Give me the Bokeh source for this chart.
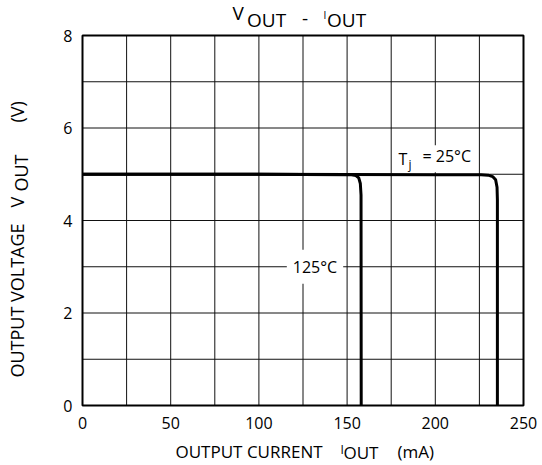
import math
from bokeh.plotting import figure
from bokeh.models import Label, FixedTicker, Range1d
from bokeh.embed import file_html
from bokeh.resources import INLINE

# ---- data ----
iout_25 = [0, 100, 200, 226, 230, 232.5, 234.2, 235.0, 235.2, 235.2]
vout_25 = [5.0, 5.0, 4.99, 4.99, 4.98, 4.95, 4.88, 4.72, 4.45, 0.0]
iout_125 = [0, 100, 150, 152.5, 155.0, 156.6, 157.5, 157.9, 158.0]
vout_125 = [5.0, 5.0, 4.99, 4.99, 4.97, 4.92, 4.8, 4.55, 0.0]

x_ticks = [0, 50, 100, 150, 200, 250]
x_grid = [0, 25, 50, 75, 100, 125, 150, 175, 200, 225, 250]
y_ticks = [0, 2, 4, 6, 8]
y_grid = [0, 1, 2, 3, 4, 5, 6, 7, 8]

FONT = "Open Sans"

# ---- layout (pixels) ----
W, H = 541, 465
BOX_L, BOX_R, BOX_T, BOX_B = 82, 523, 35, 405
xmin, xmax = x_ticks[0], x_ticks[-1]
ymin, ymax = y_ticks[0], y_ticks[-1]
sx = (BOX_R - BOX_L) / (xmax - xmin)
sy = (BOX_B - BOX_T) / (ymax - ymin)
x_start = xmin - BOX_L / sx
x_end = x_start + W / sx
y_end = ymax + BOX_T / sy
y_start = y_end - H / sy

p = figure(width=W, height=H, title=None,
           x_range=Range1d(x_start, x_end), y_range=Range1d(y_start, y_end),
           output_backend="svg", toolbar_location=None,
           min_border=0, min_border_left=0, min_border_right=0,
           min_border_top=0, min_border_bottom=0)
p.background_fill_color = "white"
p.border_fill_color = "white"
p.outline_line_color = None
p.xgrid.visible = False
p.ygrid.visible = False

# axes fixed on the plot box edges
for ax, t in ((p.xaxis, x_ticks), (p.yaxis, y_ticks)):
    ax.ticker = FixedTicker(ticks=t)
    ax.axis_line_color = None
    ax.major_tick_line_color = None
    ax.minor_tick_line_color = None
    ax.major_label_text_font = FONT
    ax.major_label_text_font_size = "16px"
    ax.major_label_text_color = "black"
p.xaxis.fixed_location = ymin
p.yaxis.fixed_location = xmin
p.xaxis.major_label_standoff = 5
p.yaxis.major_label_standoff = 4

# grid lines
p.segment(x0=x_grid, y0=[ymin] * len(x_grid), x1=x_grid, y1=[ymax] * len(x_grid),
          line_color="#111111", line_width=1)
p.segment(x0=[xmin] * len(y_grid), y0=y_grid, x1=[xmax] * len(y_grid), y1=y_grid,
          line_color="#111111", line_width=1)
# plot box
p.quad(left=[xmin], right=[xmax], bottom=[ymin], top=[ymax],
       fill_color=None, line_color="black", line_width=2)

# curves
p.line(iout_25, vout_25, line_color="black", line_width=3, line_join="round")
p.line(iout_125, vout_125, line_color="black", line_width=3, line_join="round")


def px2x(px):
    return xmin + (px - BOX_L) / sx


def py2y(py):
    return ymin + (BOX_B - py) / sy


def txt(px, py, text, size, rotated=False, align="left", baseline="alphabetic", **kw):
    # Bokeh anchors "alphabetic" labels at the bottom of the descent; compensate
    if baseline == "alphabetic":
        d = 0.29 * size
        if rotated:
            px -= d
        else:
            py -= d
    lab = Label(x=px2x(px), y=py2y(py), text=text, text_font=FONT,
                text_font_size=f"{size}px", text_color="black",
                text_align=align, text_baseline=baseline,
                angle=(math.pi / 2 if rotated else 0.0), **kw)
    p.add_layout(lab)
    return lab


# title  V_OUT - I_OUT
txt(232, 18, "V", 19)
txt(246.5, 25, "OUT", 19)
txt(301.5, 23.5, "-", 19)
txt(323, 17, "I", 10)
txt(326.5, 25, "OUT", 19)

# x axis label  OUTPUT CURRENT  I_OUT  (mA)
txt(175, 455.5, "OUTPUT CURRENT", 17)
txt(340, 452, "I", 12)
txt(343, 457, "OUT", 17)
txt(397, 455.5, "(mA)", 17)

# y axis label  OUTPUT VOLTAGE  V_OUT  (V)  (rotated)
txt(22, 377, "OUTPUT VOLTAGE", 18, rotated=True)
txt(22, 207, "V", 18, rotated=True)
txt(26, 191, "OUT", 18, rotated=True)
txt(22, 122, "(V)", 18, rotated=True)

# curve labels
txt(314.5, 266.25, "125°C", 16, align="center", baseline="middle",
    background_fill_color="white", padding=6)
txt(398, 163, "T", 16)
txt(408, 167, "j", 12)
txt(415, 163, "= 25°C", 16, background_fill_color="white", padding=(7, 5, 0, 5))

open("out.html", "w").write(file_html(p, INLINE))
